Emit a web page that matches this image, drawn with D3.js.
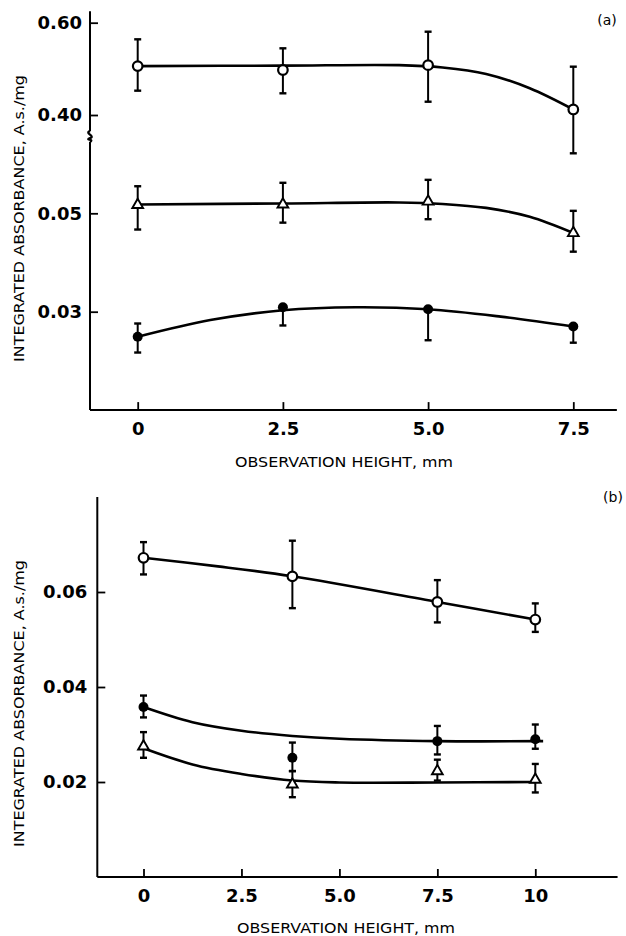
<!DOCTYPE html>
<html><head><meta charset="utf-8">
<script src="https://cdn.jsdelivr.net/npm/d3@7"></script>
<style>body{margin:0;background:#fff}svg{display:block}</style>
</head><body>
<svg id="c" width="626" height="936"></svg>
<script>
// ---------- Panel (a) data ----------
const heightsA = [0, 2.5, 5.0, 7.5];
const openA   = [0.506, 0.4975, 0.508, 0.412];
const openAHi = [0.564, 0.5445, 0.5805, 0.5047];
const openALo = [0.4527, 0.447, 0.4288, 0.317];
const triA    = [0.0517, 0.0518, 0.0524, 0.0460];
const triAHi  = [0.0555, 0.0562, 0.0568, 0.0505];
const triALo  = [0.0467, 0.0481, 0.0488, 0.0422];
const fillA   = [0.0249, 0.0309, 0.0305, 0.0270];
const fillAHi = [0.0276, 0.0309, 0.0305, 0.0270];
const fillALo = [0.0217, 0.0272, 0.0242, 0.0237];
// fitted curves (a)
const fitAOpenX = [0, 2.5, 4.5, 5.25, 6.0, 6.75, 7.5];
const fitAOpenY = [0.506, 0.507, 0.508, 0.503, 0.489, 0.458, 0.412];
const fitATriX  = [0, 2.5, 4.5, 5.25, 6.0, 6.75, 7.5];
const fitATriY  = [0.0518, 0.0520, 0.0522, 0.0519, 0.0511, 0.0493, 0.0460];
const fitAFillX = [0, 1.25, 2.5, 3.75, 5.0, 6.25, 7.5];
const fitAFillY = [0.0249, 0.0283, 0.0303, 0.0309, 0.0305, 0.0290, 0.0270];
const ticksAX = [0, 2.5, 5.0, 7.5];
const tickLabelsAX = ["0", "2.5", "5.0", "7.5"];
const ticksAUpper = [0.40, 0.60];
const ticksALower = [0.03, 0.05];

// ---------- Panel (b) data ----------
const heightsB = [0, 3.8, 7.5, 10];
const openB   = [0.0672, 0.0633, 0.0579, 0.0542];
const openBHi = [0.0705, 0.0708, 0.0625, 0.0576];
const openBLo = [0.0637, 0.0566, 0.0536, 0.0516];
const fillB   = [0.0358, 0.0251, 0.0286, 0.0290];
const fillBHi = [0.0382, 0.0283, 0.0318, 0.0321];
const fillBLo = [0.0336, 0.0223, 0.0258, 0.0270];
const triB    = [0.0275, 0.0195, 0.0223, 0.0205];
const triBHi  = [0.0305, 0.0223, 0.0247, 0.0238];
const triBLo  = [0.0251, 0.0168, 0.0203, 0.0178];
const fitBOpenX = [0, 1.9, 3.8, 7.5, 10];
const fitBOpenY = [0.0672, 0.0654, 0.0633, 0.0579, 0.0542];
const fitBFillX = [0, 1.25, 2.5, 3.8, 5, 7.5, 10.2];
const fitBFillY = [0.0358, 0.0326, 0.0308, 0.0297, 0.0291, 0.0286, 0.0286];
const fitBTriX  = [0, 1.25, 2.5, 3.8, 5, 7.5, 10];
const fitBTriY  = [0.0271, 0.0237, 0.0217, 0.0203, 0.0199, 0.0199, 0.0200];
const ticksBX = [0, 2.5, 5.0, 7.5, 10];
const tickLabelsBX = ["0", "2.5", "5.0", "7.5", "10"];
const ticksBY = [0.02, 0.04, 0.06];

const yTitle = "INTEGRATED ABSORBANCE, A.s./mg";
const xTitle = "OBSERVATION HEIGHT, mm";

const svg = d3.select("#c");
const TICKFONT = "'DejaVu Sans', sans-serif";

function errorBars(g, xs, x, y, vals, hi, lo) {
  xs.forEach((h, i) => {
    const cx = x(h);
    g.append("line").attr("x1", cx).attr("x2", cx).attr("y1", y(hi[i])).attr("y2", y(lo[i]))
      .attr("stroke", "#000").attr("stroke-width", 2);
    [hi[i], lo[i]].forEach(v => {
      g.append("line").attr("x1", cx - 3.5).attr("x2", cx + 3.5).attr("y1", y(v)).attr("y2", y(v))
        .attr("stroke", "#000").attr("stroke-width", 2.4);
    });
  });
}
function curve(g, xs, ys, x, y) {
  const line = d3.line().x(d => x(d[0])).y(d => y(d[1])).curve(d3.curveCatmullRom.alpha(0.5));
  g.append("path").attr("d", line(xs.map((v, i) => [v, ys[i]])))
    .attr("fill", "none").attr("stroke", "#000").attr("stroke-width", 2.6);
}
function markers(g, xs, vals, x, y, type) {
  xs.forEach((h, i) => {
    const cx = x(h), cy = y(vals[i]);
    if (type === "open") {
      g.append("circle").attr("cx", cx).attr("cy", cy).attr("r", 4.8)
        .attr("fill", "#fff").attr("stroke", "#000").attr("stroke-width", 2.2);
    } else if (type === "filled") {
      g.append("circle").attr("cx", cx).attr("cy", cy).attr("r", 5).attr("fill", "#000");
    } else {
      g.append("path").attr("d", d3.symbol(d3.symbolTriangle, 50)())
        .attr("transform", `translate(${cx},${cy})`)
        .attr("fill", "#fff").attr("stroke", "#000").attr("stroke-width", 1.9);
    }
  });
}
function styleAxis(g) {
  g.select(".domain").remove();
  g.selectAll(".tick line").attr("stroke", "#000").attr("stroke-width", 1.8);
  g.selectAll(".tick text").attr("fill", "#000").attr("font-family", TICKFONT)
    .attr("font-weight", "bold").attr("font-size", 18);
}
function titles(cxY, cyY, x0X, yX) {
  svg.append("text").attr("transform", `translate(${cxY},${cyY}) rotate(-90)`)
    .attr("text-anchor", "middle").attr("dominant-baseline", "central")
    .attr("font-family", TICKFONT).attr("font-size", 14)
    .attr("textLength", 287).attr("lengthAdjust", "spacingAndGlyphs").text(yTitle);
  svg.append("text").attr("x", x0X).attr("y", yX).attr("dominant-baseline", "central")
    .attr("font-family", TICKFONT).attr("font-size", 14)
    .attr("textLength", 218).attr("lengthAdjust", "spacingAndGlyphs").text(xTitle);
}

// ================= Panel (a) =================
const xA = d3.scaleLinear().domain([0, 7.5]).range([137.7, 573.3]);
const yAU = d3.scaleLinear().domain([0.40, 0.60]).range([115, 22.7]);
const yAL = d3.scaleLinear().domain([0.03, 0.05]).range([311.7, 213.3]);
const axA = 90;            // x of y-axis
const ayA = yAL(0.01);     // y of x-axis
const gA = svg.append("g");

// axis lines with break mark
const b0 = yAU(0.365), b1 = yAL(0.0645);
gA.append("path").attr("fill", "none").attr("stroke", "#000").attr("stroke-width", 2)
  .attr("d", `M${axA},${yAU(0.625)}V${b0}`);
gA.append("path").attr("fill", "none").attr("stroke", "#000").attr("stroke-width", 2.2)
  .attr("d", `M${axA},${b0} C${axA-6},${b0+2} ${axA+6},${b0+5} ${axA},${b0+7} C${axA-6},${b0+9} ${axA+5},${b1-3} ${axA},${b1}`);
gA.append("path").attr("fill", "none").attr("stroke", "#000").attr("stroke-width", 2)
  .attr("d", `M${axA},${b1}V${ayA}`);
gA.append("line").attr("x1", axA).attr("x2", xA(8.25)).attr("y1", ayA).attr("y2", ayA)
  .attr("stroke", "#000").attr("stroke-width", 2);

gA.append("g").attr("transform", `translate(${axA},0)`)
  .call(d3.axisLeft(yAU).tickValues(ticksAUpper).tickFormat(d3.format(".2f")).tickSizeInner(-8).tickSizeOuter(0).tickPadding(8))
  .call(styleAxis);
gA.append("g").attr("transform", `translate(${axA},0)`)
  .call(d3.axisLeft(yAL).tickValues(ticksALower).tickFormat(d3.format(".2f")).tickSizeInner(-8).tickSizeOuter(0).tickPadding(8))
  .call(styleAxis);
gA.append("g").attr("transform", `translate(0,${ayA})`)
  .call(d3.axisBottom(xA).tickValues(ticksAX).tickFormat((d, i) => tickLabelsAX[i]).tickSizeInner(-8).tickSizeOuter(0).tickPadding(12))
  .call(styleAxis);

errorBars(gA, heightsA, xA, yAU, openA, openAHi, openALo);
errorBars(gA, heightsA, xA, yAL, triA, triAHi, triALo);
errorBars(gA, heightsA, xA, yAL, fillA, fillAHi, fillALo);
curve(gA, fitAOpenX, fitAOpenY, xA, yAU);
curve(gA, fitATriX, fitATriY, xA, yAL);
curve(gA, fitAFillX, fitAFillY, xA, yAL);
markers(gA, heightsA, openA, xA, yAU, "open");
markers(gA, heightsA, triA, xA, yAL, "tri");
markers(gA, heightsA, fillA, xA, yAL, "filled");
svg.append("text").attr("x", 607).attr("y", 20).attr("text-anchor", "middle").attr("dominant-baseline", "central")
  .attr("font-family", TICKFONT).attr("font-size", 14).text("(a)");
titles(19, 218.5, 235, 462);

// ================= Panel (b) =================
const xB = d3.scaleLinear().domain([0, 10]).range([143.5, 535.3]);
const yB = d3.scaleLinear().domain([0, 0.08]).range([877, 497]);
const axB = 97.3;
const ayB = yB(0);
const gB = svg.append("g");
gB.append("line").attr("x1", axB).attr("x2", axB).attr("y1", yB(0.08)).attr("y2", ayB)
  .attr("stroke", "#000").attr("stroke-width", 2);
gB.append("line").attr("x1", axB).attr("x2", xB(12.1)).attr("y1", ayB).attr("y2", ayB)
  .attr("stroke", "#000").attr("stroke-width", 2);
gB.append("g").attr("transform", `translate(${axB},0)`)
  .call(d3.axisLeft(yB).tickValues(ticksBY).tickFormat(d3.format(".2f")).tickSizeInner(-8).tickSizeOuter(0).tickPadding(10))
  .call(styleAxis);
gB.append("g").attr("transform", `translate(0,${ayB})`)
  .call(d3.axisBottom(xB).tickValues(ticksBX).tickFormat((d, i) => tickLabelsBX[i]).tickSizeInner(-8).tickSizeOuter(0).tickPadding(12))
  .call(styleAxis);

errorBars(gB, heightsB, xB, yB, openB, openBHi, openBLo);
errorBars(gB, heightsB, xB, yB, fillB, fillBHi, fillBLo);
errorBars(gB, heightsB, xB, yB, triB, triBHi, triBLo);
curve(gB, fitBOpenX, fitBOpenY, xB, yB);
curve(gB, fitBFillX, fitBFillY, xB, yB);
curve(gB, fitBTriX, fitBTriY, xB, yB);
markers(gB, heightsB, openB, xB, yB, "open");
markers(gB, heightsB, triB, xB, yB, "tri");
markers(gB, heightsB, fillB, xB, yB, "filled");
svg.append("text").attr("x", 613).attr("y", 497).attr("text-anchor", "middle").attr("dominant-baseline", "central")
  .attr("font-family", TICKFONT).attr("font-size", 14).text("(b)");
titles(18.5, 703.5, 237, 928);
</script>
</body></html>
